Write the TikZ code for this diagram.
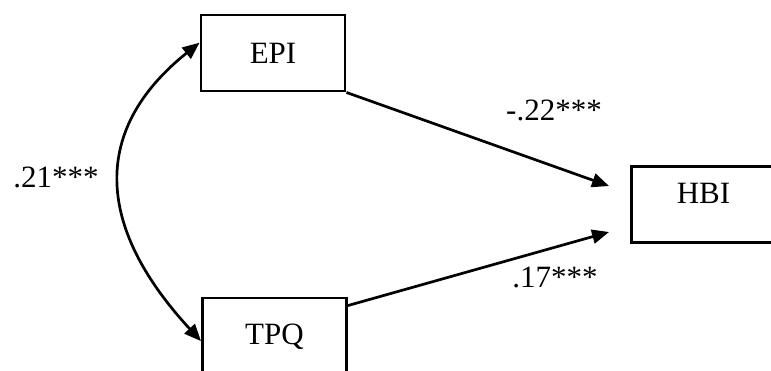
\documentclass[tikz,border=0pt]{standalone}
\usepackage{fontspec}
\setmainfont{Liberation Serif}
\usetikzlibrary{arrows.meta,calc}
\begin{document}
\begin{tikzpicture}[x=1pt,y=-1pt,
  var/.style={draw,line width=2.9pt,minimum width=144pt,minimum height=76pt,inner sep=0pt,font=\fontsize{31}{36}\selectfont},
  path/.style={line width=2.7pt,-{Triangle[length=17pt,width=14pt]}},
  coef/.style={font=\fontsize{31}{36}\selectfont,inner sep=0pt}]
\clip (0,0) rectangle (771,370);
\useasboundingbox (0,0) rectangle (771,370);
\node[var] (EPI) at (273,53) {EPI};
\node[var,text height=20pt,text depth=4pt] (TPQ) at (274.5,336) {TPQ};
\node[var,text height=20pt,text depth=23pt] (HBI) at (703.5,204.5) {HBI};
\draw[line width=2.7pt,{Triangle[length=17pt,width=14pt]}-{Triangle[length=17pt,width=14pt]}]
  (EPI.172) .. controls (93,128) and (93,224) .. (TPQ.184);
\draw[path] (EPI.south east) -- ($(HBI.west)+(-21,-18.5)$);
\draw[path] ($(TPQ.north east)+(0,9)$) -- ($(HBI.west)+(-21,27.5)$);
\node[coef] (c1) at (56,177) {.21***};
\node[coef] (c2) at (554,110) {-.22***};
\node[coef] (c3) at (555,277) {.17***};
\end{tikzpicture}
\end{document}
